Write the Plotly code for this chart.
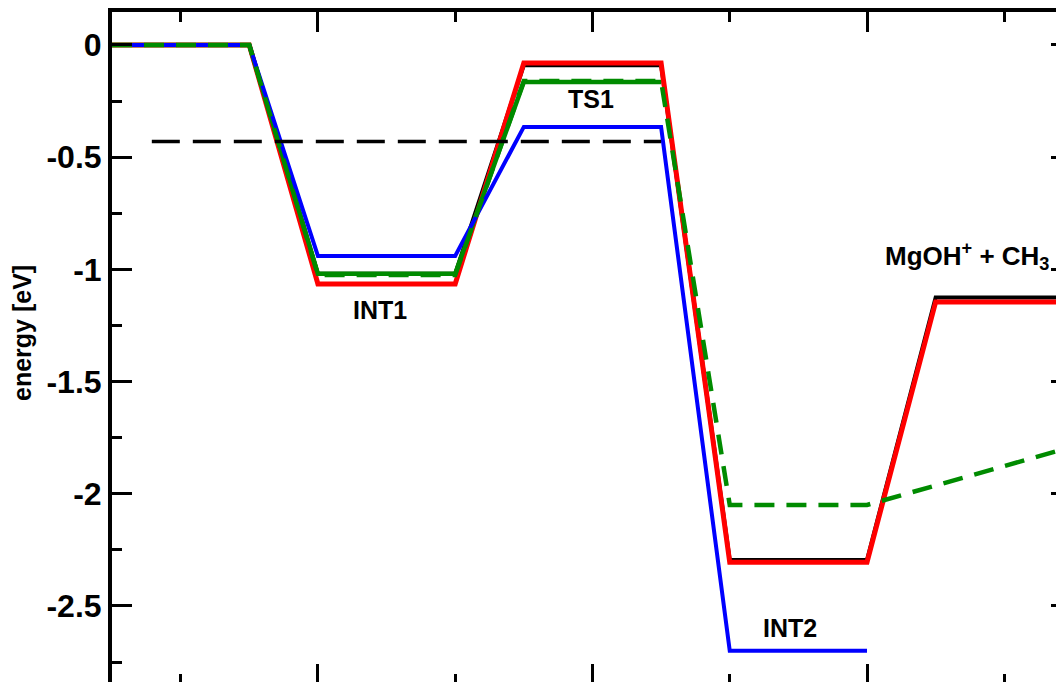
import plotly.graph_objects as go

# ---- data ----
stages = ["R", "INT1", "TS1", "INT2", "P"]
E_black = [0.0, -1.02, -0.09, -2.295, -1.125]
E_red = [0.0, -1.065, -0.08, -2.305, -1.145]
E_green = [0.0, -1.02, -0.165]
E_blue = [0.0, -0.94, -0.365, -2.70]
E_green_dash = [0.0, -1.025, -0.16, -2.05]
green_dash_end = -1.79          # value of the dashed green path at the right edge
ref_level = -0.43               # black dashed reference level
ref_from, ref_to = 0.58, 8.0    # x-extent of reference line (stage units)

ytick_vals = [0, -0.5, -1, -1.5, -2, -2.5]
ytick_text = ["0", "-0.5", "-1", "-1.5", "-2", "-2.5"]
ytick_minor = [-0.25, -0.75, -1.25, -1.75, -2.25, -2.75]
xtick_major = [3, 7, 11]
xtick_minor = [1, 5, 9, 13]

labels = ["INT1", "TS1", "INT2", "MgOH<sup>+</sup> + CH<sub>3</sub>"]
label_x = [3.90, 6.98, 9.88, 13.68]
label_y = [-1.18, -0.24, -2.60, -0.94]
label_size = [25, 25, 25, 26]
label_anchor = ["center", "center", "center", "right"]

LEVEL_W = 2   # width of a level in x units
GAP = 1       # connector width


def build(levels):
    xs, ys = [], []
    for i, e in enumerate(levels):
        x0 = i * (LEVEL_W + GAP)
        xs += [x0, x0 + LEVEL_W]
        ys += [e, e]
    return xs, ys


FONT = "Liberation Sans, Arial, Helvetica, sans-serif"
GREEN = "rgb(0,139,0)"

fig = go.Figure()

x, y = build(E_black)
fig.add_trace(go.Scatter(x=x, y=y, mode="lines", line=dict(color="black", width=4)))
x, y = build(E_red)
fig.add_trace(go.Scatter(x=x, y=y, mode="lines", line=dict(color="rgb(255,0,0)", width=5)))
x, y = build(E_green)
fig.add_trace(go.Scatter(x=x, y=y, mode="lines", line=dict(color=GREEN, width=4.5)))
x, y = build(E_blue)
fig.add_trace(go.Scatter(x=x, y=y, mode="lines", line=dict(color="rgb(0,0,255)", width=4)))
x, y = build(E_green_dash)
x = x + [len(stages) * (LEVEL_W + GAP) - GAP]
y = y + [green_dash_end]
fig.add_trace(go.Scatter(x=x, y=y, mode="lines",
                         line=dict(color=GREEN, width=4.5, dash="20px,12px")))
fig.add_trace(go.Scatter(x=[ref_from, ref_to], y=[ref_level, ref_level], mode="lines",
                         xaxis="x2", yaxis="y2",
                         line=dict(color="black", width=3.5, dash="28px,13px")))

XR = [0, 13.87]
YR = [-2.839, 0.147]

for text, lx, ly, sz, anc in zip(labels, label_x, label_y, label_size, label_anchor):
    fig.add_annotation(x=lx, y=ly, text=text, showarrow=False, xanchor=anc, yanchor="middle",
                       font=dict(family=FONT, size=sz, color="black", weight="bold"))

fig.add_annotation(xref="paper", yref="paper", x=-0.0945, y=0.521, text="energy [eV]",
                   textangle=-90, showarrow=False, xanchor="center", yanchor="middle",
                   font=dict(family=FONT, size=25, color="black", weight="bold"))

fig.update_layout(
    width=1056, height=674,
    margin=dict(l=104, r=0, t=4, b=0, autoexpand=False),
    paper_bgcolor="white", plot_bgcolor="white",
    showlegend=False,
    xaxis=dict(range=XR, side="top", showline=True, linewidth=4, linecolor="black",
               showgrid=False, zeroline=False, showticklabels=False,
               ticks="inside", ticklen=20, tickwidth=3, tickcolor="black",
               tickmode="array", tickvals=xtick_major,
               minor=dict(tickmode="array", tickvals=xtick_minor, ticks="inside",
                          ticklen=10, tickwidth=3, tickcolor="black")),
    xaxis2=dict(range=XR, overlaying="x", side="bottom", anchor="y", showline=False,
                showgrid=False, zeroline=False, showticklabels=False,
                ticks="inside", ticklen=18, tickwidth=3, tickcolor="black",
                tickmode="array", tickvals=xtick_major,
                minor=dict(tickmode="array", tickvals=xtick_minor, ticks="inside",
                           ticklen=8, tickwidth=3, tickcolor="black")),
    yaxis=dict(range=YR, side="left", showline=True, linewidth=4, linecolor="black",
               showgrid=False, zeroline=False, automargin=False,
               ticks="inside", ticklen=20, tickwidth=3, tickcolor="black",
               tickmode="array", tickvals=ytick_vals, ticktext=ytick_text,
               tickfont=dict(family=FONT, size=32, color="black", weight="bold"),
               minor=dict(tickmode="array", tickvals=ytick_minor, ticks="inside",
                          ticklen=10, tickwidth=3, tickcolor="black")),
    yaxis2=dict(range=YR, overlaying="y", side="right", anchor="x", showline=False,
                showgrid=False, zeroline=False, showticklabels=False,
                ticks="inside", ticklen=13, tickwidth=3, tickcolor="black",
                tickmode="array", tickvals=ytick_vals,
                minor=dict(tickmode="array", tickvals=ytick_minor, ticks="inside",
                           ticklen=3, tickwidth=3, tickcolor="black")),
)

fig.write_html("out.html")
